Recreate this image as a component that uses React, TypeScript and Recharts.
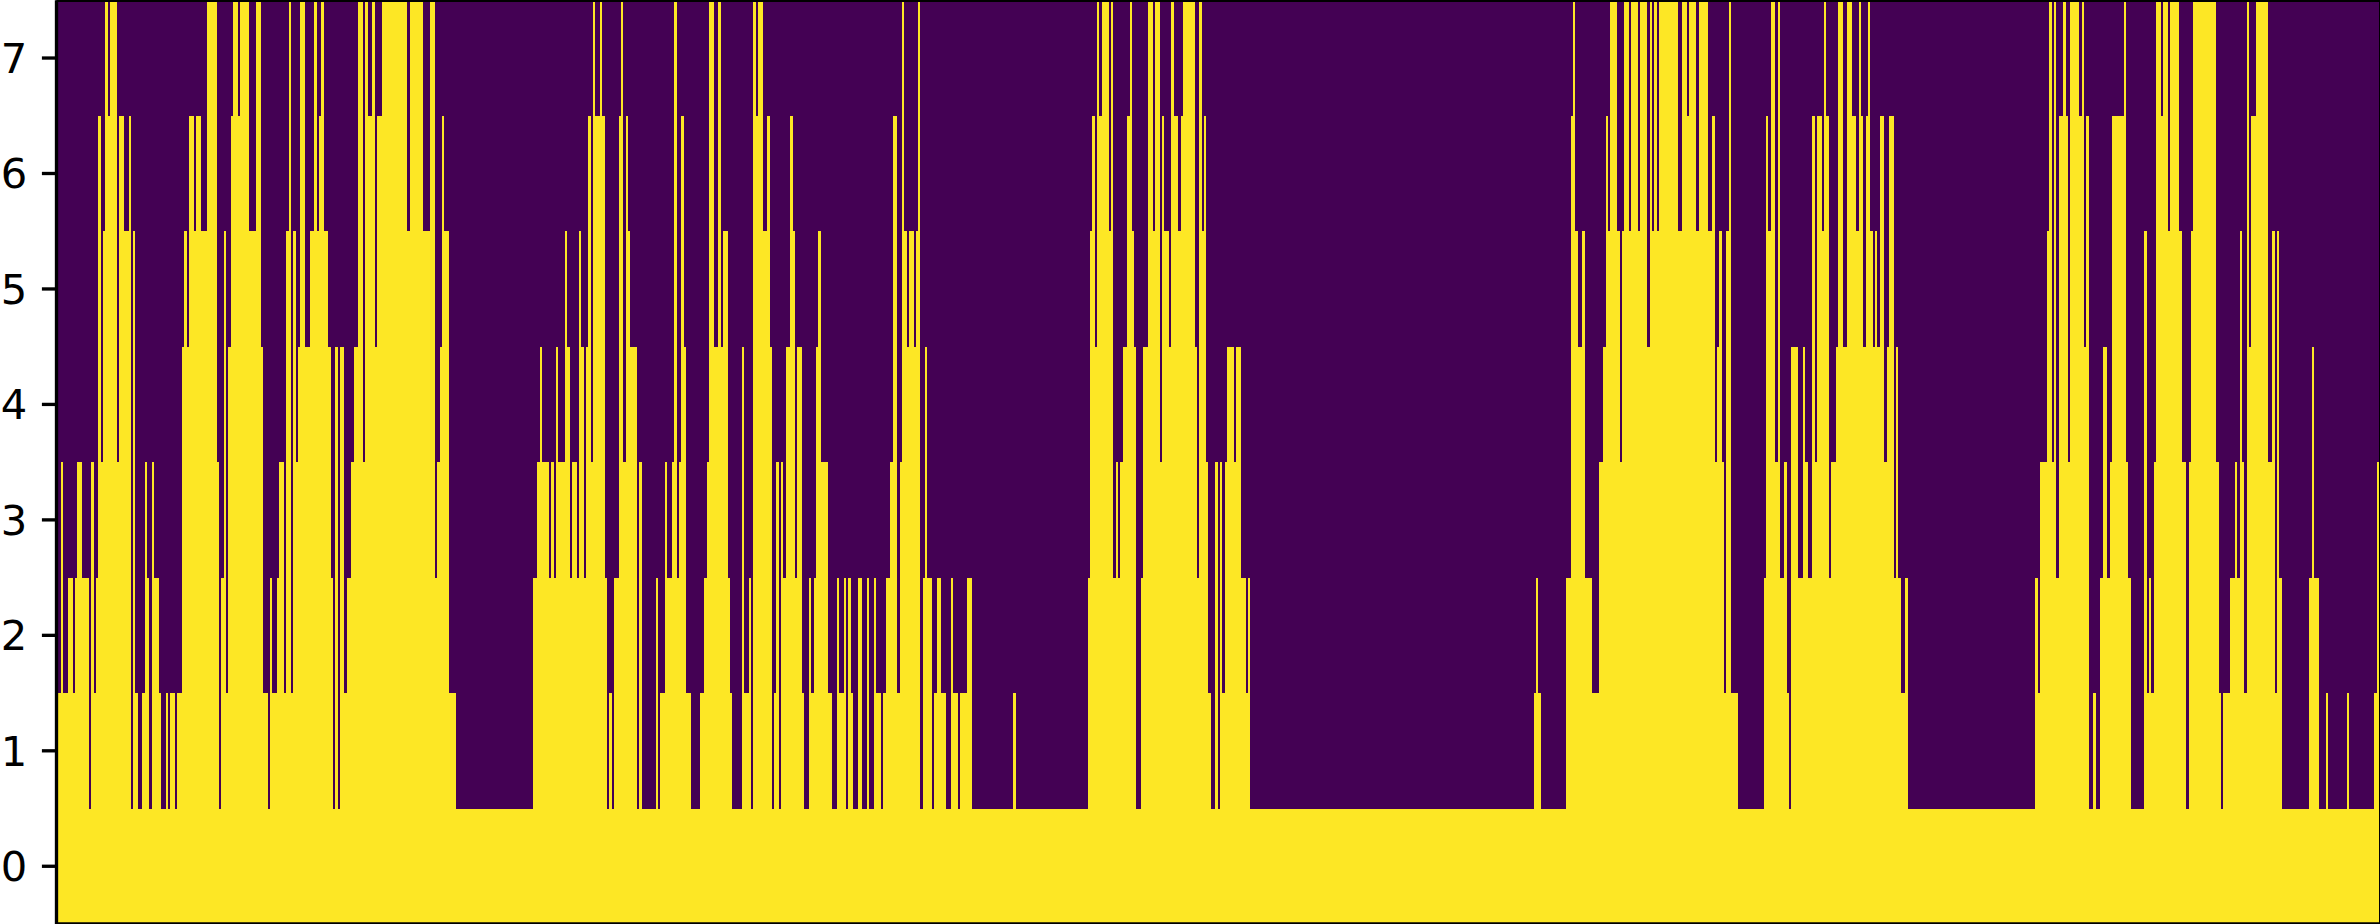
import { ComposedChart, Area, XAxis, YAxis, CartesianGrid, ReferenceLine } from 'recharts';

// binary image, 1000 columns x 8 rows: every pair is [first column of run, filled rows]
const runsA = [
  [0,2],[2,4],[3,2],[5,3],[7,2],[8,3],[9,4],[11,3],[14,1],[15,4],[16,2],[17,3],[18,7],[19,4],[20,6],[21,8],[22,7],[23,8],[26,4],[27,7],
  [29,6],[31,7],[32,1],[33,6],[34,2],[35,1],[37,2],[38,4],[39,3],[40,1],[41,4],[42,3],[44,2],[45,1],[47,2],[48,1],[49,2],[51,1],[52,2],[54,5],
  [55,6],[56,5],[57,7],[59,6],[60,7],[62,6],[65,8],[69,4],[70,1],[71,3],[72,6],[73,2],[74,5],[75,7],[76,8],[78,7],[79,8],[83,6],[86,8],[88,5],
  [89,2],[91,1],[92,3],[93,2],[95,3],[96,4],[98,2],[99,6],[100,8],[101,2],[102,6],[103,4],[104,5],[105,8],[107,5],[109,6],[111,8],[112,6],[113,7],[114,8],
  [115,6],[117,5],[118,3],[119,1],[120,5],[121,1],[122,5],[124,2],[125,3],[127,4],[128,5],[130,8],[132,4],[133,8],[134,7],[136,8],[137,5],[138,7],[140,8],[151,6],
  [152,8],
];
const runsB = [
  [158,6],[161,8],[163,3],[164,4],[165,5],[166,7],[167,6],[169,2],[172,1],[205,3],[207,4],[208,5],[209,4],[212,3],[213,4],[214,3],[215,5],[216,4],[219,6],[220,5],
  [221,3],[222,4],[224,3],[225,6],[226,5],[227,3],[228,5],[229,7],[230,4],[231,8],[232,7],[234,8],[235,7],[236,3],[237,1],[238,2],[239,1],[240,3],[242,7],[243,8],
  [244,4],[245,7],[246,6],[247,5],[250,1],[251,4],[252,1],[258,3],[259,1],[260,2],[262,4],[263,3],[265,4],[266,8],[267,3],[268,4],[269,7],[270,5],[271,2],[273,1],
  [277,2],[279,3],[280,4],[281,8],[283,5],[285,8],[286,5],[287,6],[289,3],[290,2],[291,1],[295,5],[296,2],[298,3],[299,1],[300,8],[301,7],[302,8],[304,6],[306,7],
  [307,5],[308,1],[309,2],[310,4],[311,1],[312,4],[313,3],[314,5],[316,7],[317,6],[318,3],[319,5],[321,2],[322,1],[324,3],[325,2],[326,3],[327,5],[328,6],
];
const runsC = [
  [329,4],[332,2],[334,1],[336,3],[337,2],[339,3],[340,1],[341,3],[342,2],[343,1],[345,3],[347,1],[349,3],[350,1],[352,3],[353,2],[355,1],[356,2],[357,3],[359,4],
  [360,7],[362,2],[363,4],[364,8],[365,6],[366,5],[367,6],[369,5],[370,6],[371,8],[372,1],[373,3],[374,5],[375,3],[377,1],[378,2],[379,3],[381,2],[383,1],[385,3],
  [386,2],[388,1],[389,2],[392,3],[394,1],[412,2],[413,1],[444,3],[445,6],[446,7],[447,5],[448,8],[449,7],[450,8],[453,6],[454,8],[455,3],[456,4],[457,3],[458,4],
  [459,5],[461,7],[462,8],[463,6],[464,5],[465,1],[467,3],[468,5],[470,8],[472,6],[473,8],[475,4],[476,7],[477,6],[479,5],[480,8],[481,7],[483,6],[484,7],[485,8],
  [490,5],[491,3],[492,8],[493,6],[494,7],[495,4],[496,2],[497,1],[499,4],
];
const runsD = [
  [500,1],[501,4],[502,2],[503,4],[504,5],[507,4],[508,5],[510,3],[512,2],[513,3],[514,1],[636,2],[637,3],[638,2],[639,1],[650,3],[652,7],[653,8],[654,6],[655,5],
  [657,6],[658,3],[661,2],[664,4],[666,5],[667,7],[668,6],[669,8],
];
const runsE = [
  [672,6],[673,4],[674,6],[675,8],[677,6],[678,8],[681,6],[682,8],[685,5],[686,8],[687,6],[688,8],[689,6],[690,8],[698,6],[700,8],[702,7],[703,8],[706,6],[707,8],
  [711,6],[713,7],[714,4],[715,5],[716,6],[717,4],[718,2],[719,6],[720,8],[721,2],[724,1],[735,3],[736,7],[737,6],[738,8],[740,4],[741,8],[742,3],[744,4],[745,2],
  [746,1],[747,5],[750,3],[752,5],[753,4],[754,3],[756,7],[757,4],[758,7],[760,6],[761,8],[762,7],[763,3],[764,4],[766,5],[767,8],[769,5],[771,8],[773,7],[775,6],
  [776,8],[777,7],[778,5],[779,7],[780,8],[781,6],[782,5],[783,6],[784,5],[785,7],[787,4],[788,5],[789,7],[791,3],[792,5],[793,3],[794,2],[796,3],[797,1],
];
const runsF = [
  [852,3],[853,2],[854,4],[857,6],[858,8],[859,4],[860,8],[861,3],[862,7],[864,8],[865,7],[866,4],[867,8],[871,7],[872,8],[873,5],[874,7],[875,1],[877,2],[878,1],
  [880,3],[881,5],[883,3],[884,4],[885,7],[890,8],[891,4],[892,3],[893,1],[899,6],[900,2],[901,3],[902,2],[903,4],[904,8],[906,7],[907,8],[909,6],[910,8],[914,6],
  [915,4],[917,1],[918,4],[919,6],[920,8],[930,4],[931,2],[932,1],[933,2],[936,3],[938,4],[939,3],[940,6],[941,4],[942,2],[943,8],[944,5],[945,7],[947,8],[952,4],
  [954,6],[955,2],[956,6],[957,3],[958,1],[970,3],[971,5],[972,3],[974,1],[977,2],[978,1],[986,2],[987,1],[998,2],[999,4],
];
const columnCount = 1000;
const columnRange = [0, 1000.7]; // frame sits a hair past the last column
const rowTicks = [0, 1, 2, 3, 4, 5, 6, 7];
const rowRange = [-0.5, 7.5];

const runs = [...runsA, ...runsB, ...runsC, ...runsD, ...runsE, ...runsF];
// a row n covers n-0.5..n+0.5, so the top of the filled part is rows-0.5
const data = runs.map(([column, rows]) => ({ column, top: rows - 0.5 }));
data.push({ column: columnCount, top: data[data.length - 1].top });

const spine = { stroke: '#000', strokeWidth: 3.33 };

const App = () => (
  <div style={{ position: 'fixed', left: 0, top: 0, width: 2380, height: 924, background: '#fff', overflow: 'hidden' }}>
    {/* nearest-neighbour look of the image, only for the filled area */}
    <style>{`.recharts-area-area { shape-rendering: crispEdges; }`}</style>
    <ComposedChart
      width={2380}
      height={924}
      data={data}
      margin={{ top: 0.3, right: -0.7, bottom: 0, left: 0 }}
    >
      <CartesianGrid horizontal={false} vertical={false} fill="#440154" />
      <XAxis dataKey="column" type="number" domain={columnRange} allowDataOverflow hide />
      <YAxis
        type="number"
        domain={rowRange}
        allowDataOverflow
        ticks={rowTicks}
        interval={0}
        width={56.5}
        tickSize={14.6}
        tickMargin={14.6}
        tickLine={spine}
        axisLine={false}
        tick={{ fill: '#000', fontSize: 41.67, fontFamily: 'DejaVu Sans' }}
      />
      <Area
        type="stepAfter"
        dataKey="top"
        baseValue={-0.5}
        stroke="none"
        fill="#FDE725"
        fillOpacity={1}
        dot={false}
        activeDot={false}
        isAnimationActive={false}
      />
      {/* the frame has to sit over the image, axis lines end up under the area */}
      <ReferenceLine x={columnRange[0]} {...spine} />
      <ReferenceLine x={columnRange[1]} {...spine} />
      <ReferenceLine y={rowRange[0]} {...spine} />
      <ReferenceLine y={rowRange[1]} {...spine} />
    </ComposedChart>
  </div>
);

export default App;
